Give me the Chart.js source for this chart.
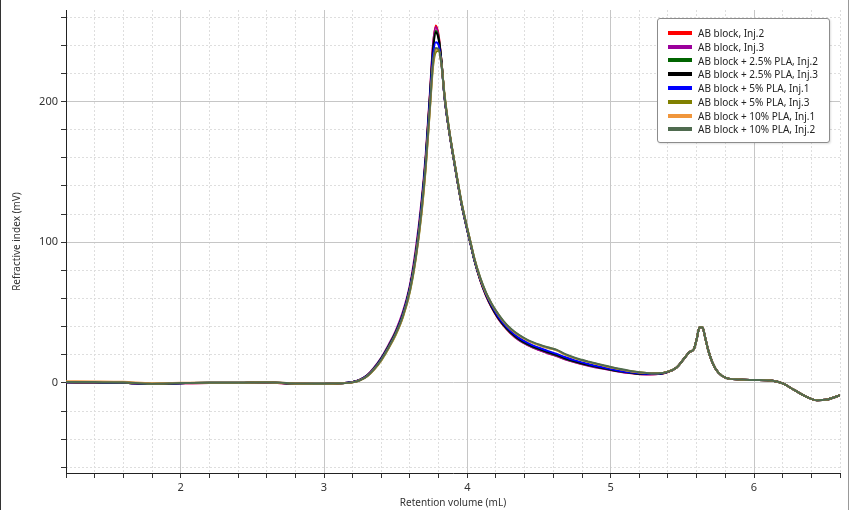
<!DOCTYPE html>
<html>
<head>
<meta charset="utf-8">
<script src="https://cdn.jsdelivr.net/npm/chart.js@4.4.1/dist/chart.umd.min.js"></script>
<style>
  html, body { margin: 0; padding: 0; background: #fff; }
  #wrap { position: relative; width: 850px; height: 510px; }
  #legend {
    position: absolute; left: 657px; top: 18px; width: 173px; height: 125px;
    box-sizing: border-box; border: 1px solid #8c8c8c; border-radius: 3px;
    background: #fff; box-shadow: 1px 1px 2px rgba(0,0,0,0.12);
    padding: 7px 0 0 10px; font: 10px 'Noto Sans', sans-serif; color: #222;
  }
  .row { height: 13.8px; display: flex; align-items: center; white-space: nowrap; }
  .sw { width: 24px; height: 4px; margin-right: 6px; flex: none; }
  .edge { position: absolute; top: 0; width: 1px; height: 510px; }
</style>
</head>
<body>
<div id="wrap">
  <canvas id="rsChart" width="850" height="510"></canvas>
  <div id="legend"></div>
  <div class="edge" style="left:0;background:#333"></div>
  <div class="edge" style="left:848px;background:#999"></div>
</div>
<script>
// retention volume (mL)
var volumes = [1.2, 1.4, 1.6, 1.8, 2.0, 2.2, 2.4, 2.6, 2.8, 3.0,
  3.1, 3.2, 3.25, 3.3, 3.35, 3.4, 3.45, 3.5, 3.55, 3.6,
  3.64, 3.68, 3.71, 3.74, 3.76, 3.78, 3.8, 3.82, 3.84, 3.87,
  3.9, 3.93, 3.96, 3.99, 4.02, 4.05, 4.09, 4.13, 4.17, 4.21,
  4.25, 4.3, 4.36, 4.42, 4.5, 4.56, 4.62, 4.68, 4.75, 4.85,
  4.95, 5.05, 5.15, 5.25, 5.33, 5.4, 5.46, 5.51, 5.55, 5.58,
  5.6, 5.62, 5.64, 5.66, 5.68, 5.71, 5.75, 5.8, 5.9, 6.0,
  6.13, 6.2, 6.28, 6.36, 6.44, 6.5, 6.6];

// refractive index (mV) for each injection
var abInj2 = [0.4,0.3,0.1,-0.8,-0.3, 0,0,0.3,-0.6,-0.7, -0.4,0.6,2.2,5.2,10.5, 17.5,26,36,49,68,
  92,126,160,206,239, 254,247,228,204,181, 162,144,127,113,100, 87,73,62,53.5,46.5,
  41,35.5,30.5,27,23.5, 21.3,19.3,17,14.8,12.3, 10.2,8.3,6.9,6.1,6.3, 7.8,11,17,22,24,
  31,39.5,39.5,32,23.5, 14.5,7.5,3.8,2.4,2.1, 1.6,-0.3,-5,-9.5,-12.3, -12,-8.8];
var abInj3 = [0.4,0.3,0.1,-0.8,-0.3, 0,0,0.3,-0.6,-0.7, -0.4,0.6,2.3,5.4,11, 18,27,37,50.5,70,
  95,129,163,208,240, 253,246,228,204,181, 162,144,127,113,100, 87,73,62,53.5,46.5,
  41,35.5,30.3,26.8,23.3, 21.1,19.1,16.8,14.6,12.1, 10,8.2,6.8,6,6.3, 7.8,11,17,22,24,
  31,39.5,39.5,32,23.5, 14.5,7.5,3.8,2.4,2.1, 1.6,-0.3,-5,-9.5,-12.3, -12,-8.8];
var pla25Inj2 = [0.5,0.4,0.2,-0.7,-0.2, 0.1,0.1,0.4,-0.5,-0.6, -0.3,0.6,2.2,5.2,10.5, 17.5,26,36,49,68,
  92,126,160,205,236, 250,245,228,204,181, 162,144,127,113,100, 87,73.3,62.5,54,47,
  41.5,36,31,27.5,24, 21.8,19.8,17.4,15.2,12.6, 10.5,8.5,7.1,6.3,6.4, 7.9,11,17,22,24,
  31,39.5,39.5,32,23.5, 14.5,7.5,3.8,2.4,2.1, 1.6,-0.3,-5,-9.5,-12.3, -12,-8.8];
var pla25Inj3 = [0.5,0.4,0.2,-0.7,-0.2, 0.1,0.1,0.4,-0.5,-0.6, -0.3,0.6,2.1,5,10.2, 17.2,25.5,35.5,48.5,68,
  91,125,159,204,235, 249,244,228,204,181, 162,144,127,113,100, 87,73.5,62.8,54.3,47.3,
  41.8,36.3,31.3,27.8,24.3, 22.1,20.1,17.7,15.4,12.8, 10.6,8.6,7.2,6.3,6.4, 7.9,11,17,22,24,
  31,39.5,39.5,32,23.5, 14.5,7.5,3.8,2.4,2.1, 1.6,-0.3,-5,-9.5,-12.3, -12,-8.8];
var pla5Inj1 = [0.5,0.4,0.2,-0.7,-0.2, 0.1,0.1,0.4,-0.5,-0.6, -0.3,0.6,2.1,5,10.1, 17,25.3,35.2,48.2,67.5,
  90.5,124.5,158.5,203,232, 242,240,226,204,181, 162,144,127,113,100, 87,73.8,63.2,55,48,
  42.5,37,32,28.5,25, 22.8,20.8,18.4,16,13.3, 11,8.9,7.4,6.5,6.5, 7.9,11,17,22,24,
  31,39.5,39.5,32,23.5, 14.5,7.5,3.8,2.4,2.1, 1.6,-0.3,-5,-9.5,-12.3, -12,-8.8];
var pla5Inj3 = [0.6,0.5,0.3,-0.6,-0.1, 0.1,0.1,0.4,-0.5,-0.6, -0.4,0.4,1.8,4.6,9.5, 16,24.5,34,46.5,65,
  88,120,153,196,224, 235,236,226,206,182, 163,145,128,114,101, 88,74.5,64,56,49.5,
  44,38.5,33.8,30.3,27, 25,23.4,20.3,17.6,14.8, 12.3,10,8.2,7,6.8, 8,11,17,22,24,
  31,39.5,39.5,32,23.5, 14.5,7.5,3.8,2.4,2.1, 1.6,-0.3,-5,-9.5,-12.3, -12,-8.8];
var pla10Inj1 = [1.2,1.1,0.8,-0.2,0.1, 0.2,0.2,0.5,-0.4,-0.5, -0.3,0.4,1.9,4.7,9.7, 16.3,24.8,34.5,47,66,
  89,121,154,197,226, 237,237,226,205,182, 163,145,128,114,101, 88,74.5,64,56,49.5,
  44,38.5,33.8,30.3,27, 25,23.4,20.3,17.6,14.8, 12.3,10,8.2,7,6.8, 8,11,17,22,24,
  31,39.5,39.5,32,23.5, 14.5,7.5,3.8,2.4,2.1, 1.6,-0.3,-5,-9.5,-12.3, -12,-8.8];
var pla10Inj2 = [0.7,0.6,0.4,-0.5,0, 0.2,0.2,0.5,-0.4,-0.5, -0.3,0.4,1.9,4.8,9.8, 16.5,25,34.8,47.5,66,
  89,122,155,198,227, 238,237,226,205,182, 163,145,128,114,101, 88,74.8,64.3,56.3,49.8,
  44.3,38.8,34.1,30.6,27.3, 25.3,23.7,20.6,17.9,15, 12.5,10.2,8.3,7.1,6.9, 8,11,17,22,24,
  31,39.5,39.5,32,23.5, 14.5,7.5,3.8,2.4,2.1, 1.6,-0.3,-5,-9.5,-12.3, -12,-8.8];

var seriesNames = ['AB block, Inj.2', 'AB block, Inj.3', 'AB block + 2.5% PLA, Inj.2', 'AB block + 2.5% PLA, Inj.3',
  'AB block + 5% PLA, Inj.1', 'AB block + 5% PLA, Inj.3', 'AB block + 10% PLA, Inj.1', 'AB block + 10% PLA, Inj.2'];
var seriesValues = [abInj2, abInj3, pla25Inj2, pla25Inj3, pla5Inj1, pla5Inj3, pla10Inj1, pla10Inj2];
var seriesColors = ['#ff0000', '#9b009b', '#006400', '#000000', '#0000ff', '#808000', '#f0963c', '#4f6b4f'];

Chart.defaults.font.family = "'Noto Sans', sans-serif";
Chart.defaults.font.size = 11;
Chart.defaults.color = '#333';

function isWhole(v, step) {
  return Math.abs(v / step - Math.round(v / step)) < 1e-6;
}

// later injections are painted over earlier ones
var datasets = seriesNames.map(function (name, i) {
  return {
    label: name,
    data: volumes.map(function (x, j) { return { x: x, y: seriesValues[i][j] }; }),
    borderColor: seriesColors[i],
    backgroundColor: seriesColors[i],
    borderWidth: 2,
    pointRadius: 0,
    cubicInterpolationMode: 'monotone',
    order: seriesNames.length - i,
    xAxisID: 'x',
    yAxisID: 'y'
  };
});

var ctx = document.getElementById('rsChart').getContext('2d');
var rsChart = new Chart(ctx, {
  type: 'line',
  data: { datasets: datasets },
  options: {
    responsive: false,
    animation: false,
    layout: { padding: { top: 10, right: 10, left: 0, bottom: 0 } },
    plugins: { legend: { display: false }, tooltip: { enabled: false } },
    scales: {
      // dotted minor grid
      xMinor: {
        type: 'linear', axis: 'x', position: 'bottom', min: 1.2, max: 6.6,
        ticks: { display: false, stepSize: 0.2, includeBounds: false },
        grid: { drawTicks: false, color: function (c) { return isWhole(c.tick.value, 1) ? 'rgba(0,0,0,0)' : '#dedede'; } },
        border: { display: false, dash: [2, 2] },
        afterFit: function (s) { s.height = 0; }
      },
      yMinor: {
        type: 'linear', axis: 'y', position: 'left', min: -64, max: 265,
        ticks: { display: false, stepSize: 20, includeBounds: false },
        grid: { drawTicks: false, color: function (c) { return isWhole(c.tick.value, 100) ? 'rgba(0,0,0,0)' : '#dedede'; } },
        border: { display: false, dash: [2, 2] },
        afterFit: function (s) { s.width = 0; }
      },
      x: {
        type: 'linear', position: 'bottom', min: 1.2, max: 6.6,
        ticks: {
          stepSize: 0.2, autoSkip: false, maxRotation: 0, includeBounds: false, padding: 3,
          callback: function (v) { return isWhole(v, 1) ? String(Math.round(v)) : ''; }
        },
        grid: {
          color: function (c) { return isWhole(c.tick.value, 1) ? '#c6c6c6' : 'rgba(0,0,0,0)'; },
          tickColor: '#333', tickLength: 5
        },
        border: { color: '#222', width: 1 },
        title: { display: true, text: 'Retention volume (mL)', font: { size: 10 }, padding: { top: 0, bottom: 1 } },
        afterFit: function (s) { s.height = 37; }
      },
      y: {
        type: 'linear', position: 'left', min: -64, max: 265,
        ticks: {
          stepSize: 20, autoSkip: false, includeBounds: false, padding: 3,
          callback: function (v) { return isWhole(v, 100) ? String(Math.round(v)) : ''; }
        },
        grid: {
          color: function (c) { return isWhole(c.tick.value, 100) ? '#c6c6c6' : 'rgba(0,0,0,0)'; },
          tickColor: '#333', tickLength: 5
        },
        border: { color: '#222', width: 1 },
        title: { display: true, text: 'Refractive index (mV)', font: { size: 10 }, padding: { top: 11, bottom: 0 } },
        afterFit: function (s) { s.width = 66; }
      }
    }
  }
});

// legend box
var legendBox = document.getElementById('legend');
seriesNames.forEach(function (name, i) {
  var row = document.createElement('div');
  row.className = 'row';
  var sw = document.createElement('span');
  sw.className = 'sw';
  sw.style.background = seriesColors[i];
  row.appendChild(sw);
  row.appendChild(document.createTextNode(name));
  legendBox.appendChild(row);
});
</script>
</body>
</html>
